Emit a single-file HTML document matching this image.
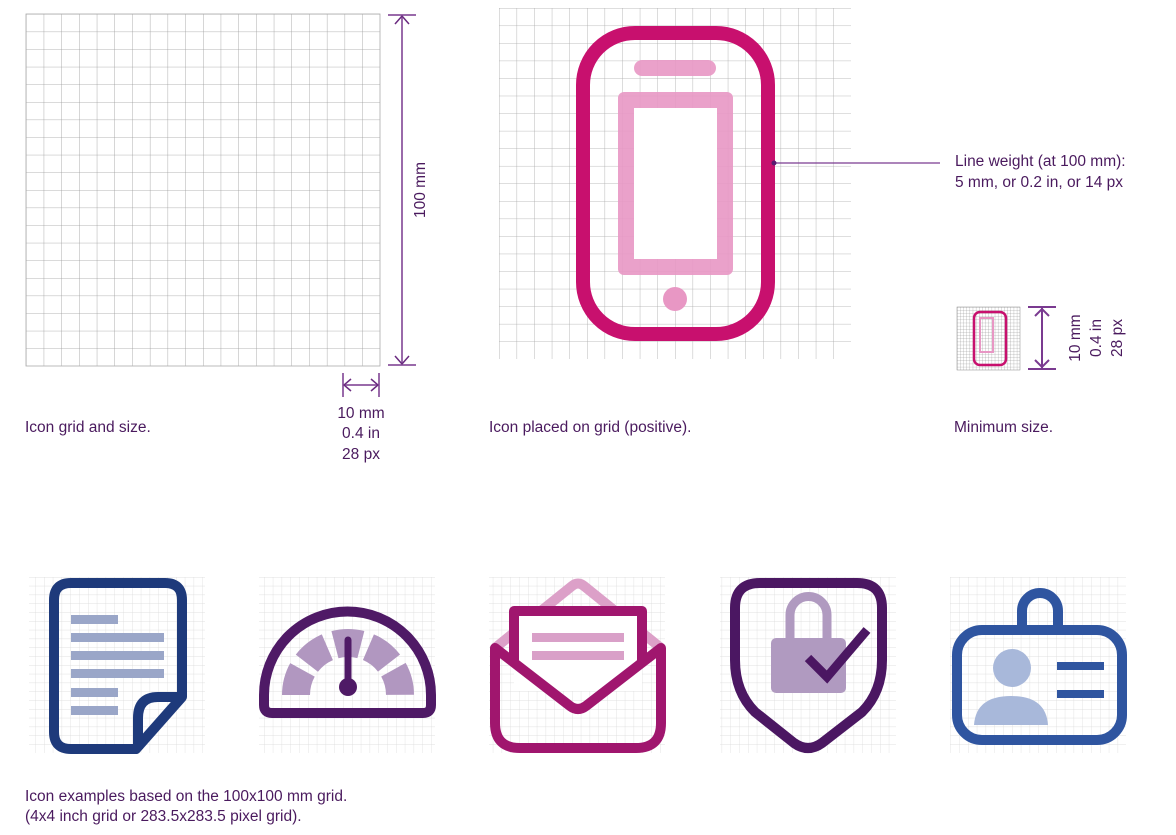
<!DOCTYPE html>
<html><head><meta charset="utf-8"><style>
html,body{margin:0;padding:0;background:#fff;}
svg{display:block;}
text{font-family:"Liberation Sans",sans-serif;font-size:15.5px;fill:#4a1a5e;}
</style></head><body>
<svg width="1176" height="835" viewBox="0 0 1176 835" xmlns="http://www.w3.org/2000/svg">
<defs>
<pattern id="g1" x="26" y="14" width="17.7" height="17.6" patternUnits="userSpaceOnUse">
<path d="M0 0H17.7M0 0V17.6" stroke="#9a9a9a" stroke-width="0.8" fill="none"/></pattern>
<pattern id="g2" x="499" y="8" width="17.6" height="17.55" patternUnits="userSpaceOnUse">
<path d="M0 0H17.6M0 0V17.55" stroke="#a8a8a8" stroke-width="0.8" fill="none"/></pattern>
<pattern id="g3" x="0" y="577" width="8.8" height="8.8" patternUnits="userSpaceOnUse">
<path d="M0 0H8.8M0 0V8.8" stroke="#d8d8d8" stroke-width="0.7" fill="none"/></pattern>
<pattern id="g4" x="957" y="307" width="3.15" height="3.15" patternUnits="userSpaceOnUse">
<path d="M0 0H3.15M0 0V3.15" stroke="#888" stroke-width="0.5" fill="none"/></pattern>
</defs>

<rect x="26" y="14" width="354" height="352" fill="url(#g1)" stroke="#aaa" stroke-width="0.8"/>
<g stroke="#9a6aaa" stroke-width="2" fill="none">
<line x1="402" y1="15" x2="402" y2="365"/>
<line x1="388" y1="15" x2="416" y2="15"/>
<line x1="388" y1="365" x2="416" y2="365"/>
<path d="M395 24 L402 16 L409 24 M395 356 L402 364 L409 356" stroke="#6a2a80" stroke-width="1.5"/>
<line x1="343" y1="373" x2="343" y2="397"/>
<line x1="379" y1="373" x2="379" y2="397"/>
<line x1="344" y1="385" x2="378" y2="385"/>
<path d="M351 379 L344 385 L351 391 M371 379 L378 385 L371 391" stroke="#6a2a80" stroke-width="1.5"/>
</g>
<text transform="translate(425,190) rotate(-90)" text-anchor="middle">100 mm</text>
<text x="361" y="418" text-anchor="middle">10 mm</text>
<text x="361" y="438" text-anchor="middle">0.4 in</text>
<text x="361" y="459" text-anchor="middle">28 px</text>
<text x="25" y="432">Icon grid and size.</text>

<rect x="499" y="8" width="352" height="351" fill="url(#g2)"/>
<rect x="634" y="60" width="82" height="16" rx="8" fill="#e897c4" opacity="0.9"/>
<rect x="618" y="92" width="115" height="183" rx="6" fill="#e897c4" opacity="0.9"/>
<rect x="634" y="108" width="83" height="151" fill="#fff"/>
<circle cx="675" cy="299" r="12" fill="#e897c4"/>
<rect x="583" y="33" width="185" height="301" rx="52" fill="none" stroke="#c8106e" stroke-width="14"/>
<line x1="774" y1="163" x2="940" y2="163" stroke="#7a3a90" stroke-width="1.2"/>
<circle cx="774" cy="163" r="2.5" fill="#5a1a70"/>
<text x="955" y="166">Line weight (at 100 mm):</text>
<text x="955" y="187">5 mm, or 0.2 in, or 14 px</text>
<text x="489" y="432">Icon placed on grid (positive).</text>

<rect x="957" y="307" width="63" height="63" fill="url(#g4)" stroke="#888" stroke-width="0.5"/>
<rect x="980" y="318" width="13" height="34" fill="none" stroke="#e897c4" stroke-width="2"/>
<rect x="974" y="312" width="32" height="53" rx="6" fill="none" stroke="#c8106e" stroke-width="2.5"/>
<g stroke="#7a3a90" stroke-width="2" fill="none">
<line x1="1042" y1="307" x2="1042" y2="369"/>
<line x1="1028" y1="307" x2="1056" y2="307"/>
<line x1="1028" y1="369" x2="1056" y2="369"/>
<path d="M1035 316 L1042 309 L1049 316 M1035 360 L1042 367 L1049 360"/>
</g>
<text transform="translate(1080,338) rotate(-90)" text-anchor="middle">10 mm</text>
<text transform="translate(1101,338) rotate(-90)" text-anchor="middle">0.4 in</text>
<text transform="translate(1122,338) rotate(-90)" text-anchor="middle">28 px</text>
<text x="954" y="432">Minimum size.</text>

<rect x="29" y="577" width="176" height="176" fill="url(#g3)"/>
<rect x="259" y="577" width="176" height="176" fill="url(#g3)"/>
<rect x="489" y="577" width="176" height="176" fill="url(#g3)"/>
<rect x="720" y="577" width="176" height="176" fill="url(#g3)"/>
<rect x="950" y="577" width="176" height="176" fill="url(#g3)"/>

<g fill="#9aa6c8">
<rect x="71" y="615" width="47" height="9"/>
<rect x="71" y="633" width="93" height="9"/>
<rect x="71" y="651" width="93" height="9"/>
<rect x="71" y="669" width="93" height="9"/>
<rect x="71" y="688" width="47" height="9"/>
<rect x="71" y="706" width="47" height="9"/>
</g>
<path d="M182 697 V600 Q182 583 165 583 H71 Q54 583 54 600 V732 Q54 749 71 749 H136 L182 697 H158 Q138 697 138 718 V749" fill="none" stroke="#1e3a7b" stroke-width="10" stroke-linejoin="round"/>

<path d="M296 695 A52 52 0 0 1 400 695" fill="none" stroke="#b197c0" stroke-width="28" stroke-dasharray="26.2 8"/>
<path d="M264 695 A83.5 83.5 0 0 1 431 695 V705 Q431 713 423 713 H272 Q264 713 264 705 Z" fill="none" stroke="#4f1a66" stroke-width="10"/>
<line x1="348" y1="640" x2="348" y2="685" stroke="#4f1a66" stroke-width="7" stroke-linecap="round"/>
<circle cx="348" cy="687" r="9" fill="#4f1a66"/>

<path d="M495 648 L572 586 Q578 581 584 586 L661 648" fill="none" stroke="#dca0c8" stroke-width="10"/>
<rect x="514" y="611" width="128" height="80" fill="#fff"/>
<rect x="532" y="633" width="92" height="9" fill="#d9a0c8"/>
<rect x="532" y="651" width="92" height="9" fill="#d9a0c8"/>
<path d="M514 663 V611 H642 V663" fill="none" stroke="#a0166e" stroke-width="10" stroke-linejoin="round"/>
<path d="M495 648 V723 Q495 748 520 748 H636 Q661 748 661 723 V648 L586 706 Q578 712 570 706 Z" fill="none" stroke="#a0166e" stroke-width="10" stroke-linejoin="round"/>

<path d="M790 638 V615 A18.5 18.5 0 0 1 827 615 V638" fill="none" stroke="#b09ac0" stroke-width="9"/>
<rect x="771" y="638" width="75" height="55" rx="5" fill="#b09ac0"/>
<path d="M808 658 L827 677 L867 630" fill="none" stroke="#4b1762" stroke-width="9"/>
<path d="M760 583 H857 Q882 583 882 608 V660 Q882 692 862 712 L822 743 Q808 753 794 743 L755 712 Q735 692 735 660 V608 Q735 583 760 583 Z" fill="none" stroke="#4b1762" stroke-width="10" stroke-linejoin="round"/>

<path d="M1022 630 V611 A18 18 0 0 1 1058 611 V630" fill="none" stroke="#2f55a0" stroke-width="10"/>
<circle cx="1012" cy="668" r="19" fill="#a8b8da"/>
<path d="M974 725 Q976 696 1011 696 Q1046 696 1048 725 Z" fill="#a8b8da"/>
<rect x="1057" y="662" width="47" height="8" fill="#2f55a0"/>
<rect x="1057" y="690" width="47" height="8" fill="#2f55a0"/>
<rect x="957" y="630" width="165" height="110" rx="25" fill="none" stroke="#2f55a0" stroke-width="10"/>

<text x="25" y="801">Icon examples based on the 100x100 mm grid.</text>
<text x="25" y="821">(4x4 inch grid or 283.5x283.5 pixel grid).</text>
</svg>
</body></html>
